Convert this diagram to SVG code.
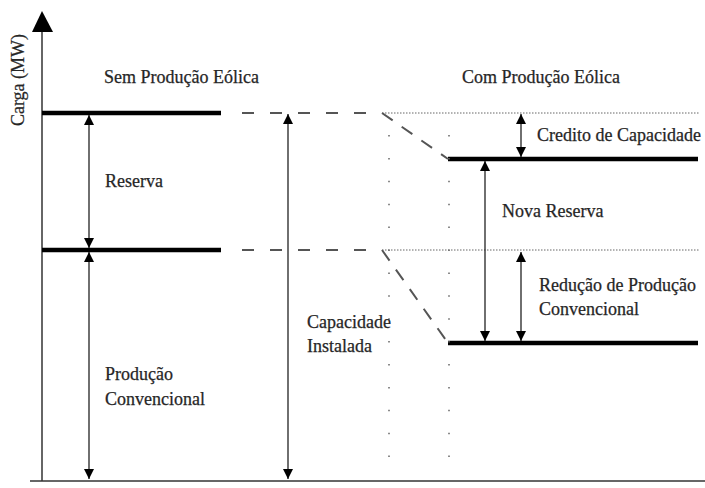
<svg xmlns="http://www.w3.org/2000/svg" width="705" height="488" viewBox="0 0 705 488">
<style>
.t{font-family:"Liberation Serif","Times New Roman",Times,serif;font-size:18px;fill:#262626;stroke:#262626;stroke-width:0.25}
.thick{stroke:#000;stroke-width:4.5;fill:none}
.dash{stroke:#555;stroke-width:2;fill:none;stroke-dasharray:12 16}
.diag{stroke:#555;stroke-width:2;fill:none;stroke-dasharray:13 11}
.dot{stroke:#666;stroke-width:1;fill:none;stroke-dasharray:1.5 1.5}
.vdot{stroke:#666;stroke-width:1.5;fill:none;stroke-dasharray:1.5 21.4}
.arr{stroke:#222;stroke-width:1.3;fill:none;marker-start:url(#ah);marker-end:url(#ah)}
.axis{stroke:#333;stroke-width:1.5;fill:none}
</style>
<defs>
<marker id="ah" viewBox="0 0 10 10" refX="10" refY="5" markerWidth="11" markerHeight="10" markerUnits="userSpaceOnUse" orient="auto-start-reverse">
<path d="M0,0 L10,5 L0,10 z" fill="#000"/>
</marker>
</defs>
<rect width="705" height="488" fill="#fff"/>
<g id="axes">
<path class="axis" d="M42 30 V481"/>
<polygon points="32,32 42,11 53,32" fill="#000"/>
<path class="axis" d="M30 481 H705"/>
<text class="t" font-family="Liberation Serif, serif" transform="translate(24,80) rotate(-90)" text-anchor="middle">Carga (MW)</text>
</g>
<g id="left-levels">
<path class="thick" d="M42 113 H221"/>
<path class="thick" d="M42 250 H221"/>
</g>
<g id="right-levels">
<path class="thick" d="M448 159 H698"/>
<path class="thick" d="M448 343 H698"/>
</g>
<g id="connectors">
<path class="dash" d="M242 113 H382"/>
<path class="dash" d="M242 250 H382"/>
<path class="dot" d="M382 113 H700"/>
<path class="dot" d="M382 250 H700"/>
<path class="diag" d="M382 113 L448 159"/>
<path class="diag" d="M382 250 L448 343"/>
<path class="vdot" d="M389 135 V465"/>
<path class="vdot" d="M449 135 V465"/>
<path class="arr" d="M89 115 V248"/>
<path class="arr" d="M89 252 V479"/>
<path class="arr" d="M288 114 V479"/>
<path class="arr" d="M521 114 V157"/>
<path class="arr" d="M485 161 V341"/>
<path class="arr" d="M521 252 V341"/>
</g>
<g id="labels">
<text class="t" x="104" y="83">Sem Produção Eólica</text>
<text class="t" x="462" y="83">Com Produção Eólica</text>
<text class="t" x="105" y="187">Reserva</text>
<text class="t" x="105" y="380">Produção</text>
<text class="t" x="105" y="405">Convencional</text>
<text class="t" x="307" y="328">Capacidade</text>
<text class="t" x="307" y="352">Instalada</text>
<text class="t" x="537" y="141">Credito de Capacidade</text>
<text class="t" x="502" y="217">Nova Reserva</text>
<text class="t" x="539" y="291">Redução de Produção</text>
<text class="t" x="539" y="315">Convencional</text>
</g>
</svg>
